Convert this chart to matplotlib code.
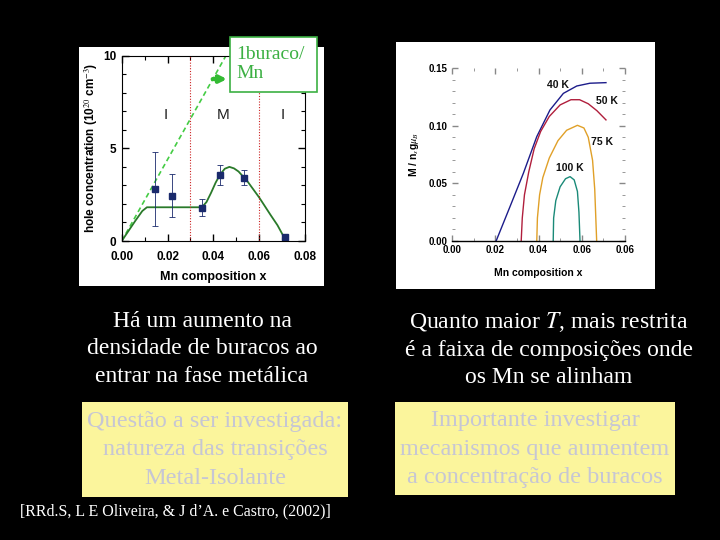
import matplotlib
matplotlib.use("Agg")
import matplotlib.pyplot as plt
from matplotlib.patches import Rectangle
from matplotlib.ticker import MultipleLocator

plt.rcParams["mathtext.fontset"] = "stix"

# painel esquerdo: concentracao de buracos
x_pts = [0.0146, 0.0218, 0.0349, 0.0428, 0.0534, 0.0713]
y_pts = [2.8, 2.45, 1.8, 3.56, 3.42, 0.2]
y_err = [2.0, 1.15, 0.45, 0.55, 0.42, 0.0]

x_fit = [0.0, 0.003, 0.006, 0.009, 0.011, 0.02, 0.035, 0.037, 0.039, 0.041, 0.043,
         0.045, 0.047, 0.049, 0.051, 0.055, 0.060, 0.065, 0.068, 0.0713]
y_fit = [0.0, 0.55, 1.1, 1.62, 1.82, 1.82, 1.82, 2.1, 2.6, 3.15, 3.6,
         3.9, 4.0, 3.92, 3.75, 3.2, 2.35, 1.4, 0.85, 0.1]

x_dash = [0.0, 0.0455]
y_dash = [0.0, 10.0]

regions = ["I", "M", "I"]
region_x = [0.0192, 0.0444, 0.0701]
boundaries = [0.03, 0.06]

# painel direito: magnetizacao
x40 = [0.0204, 0.0268, 0.033, 0.0392, 0.0453, 0.0515, 0.0577, 0.0638, 0.0712]
m40 = [0.0, 0.0297, 0.0587, 0.0905, 0.1136, 0.128, 0.1344, 0.1368, 0.1373]
x50 = [0.032, 0.0325, 0.0335, 0.0355, 0.038, 0.041, 0.045, 0.050, 0.055, 0.059,
       0.063, 0.067, 0.0712]
m50 = [0.0, 0.02, 0.04, 0.06, 0.08, 0.095, 0.108, 0.118, 0.1225, 0.1225,
       0.119, 0.113, 0.105]
x75 = [0.0392, 0.0395, 0.0405, 0.042, 0.045, 0.049, 0.053, 0.058, 0.061, 0.063,
       0.065, 0.066, 0.0665, 0.0669]
m75 = [0.0, 0.02, 0.04, 0.055, 0.072, 0.087, 0.096, 0.1003, 0.098, 0.09,
       0.07, 0.045, 0.02, 0.0]
x100 = [0.0468, 0.047, 0.048, 0.050, 0.0525, 0.0546, 0.0565, 0.058, 0.0587, 0.059, 0.0592]
m100 = [0.0, 0.02, 0.035, 0.047, 0.054, 0.0558, 0.053, 0.043, 0.025, 0.01, 0.0]

temps = ["40 K", "50 K", "75 K", "100 K"]
temp_x = [0.049, 0.0717, 0.0692, 0.0546]
temp_y = [0.1353, 0.1217, 0.0861, 0.0633]
temp_colors = ["#1c1c8a", "#b01e3c", "#e0a028", "#1a8a78"]

# textos do slide
left_text = "Há um aumento na\ndensidade de buracos ao\nentrar na fase metálica"
right_text = "Quanto maior $T$, mais restrita\né a faixa de composições onde\nos Mn se alinham"
left_box = "Questão a ser investigada:\nnatureza das transições\nMetal-Isolante"
right_box = "Importante investigar\nmecanismos que aumentem\na concentração de buracos"
citation = "[RRd.S, L E Oliveira, & J d\u2019A. e Castro, (2002)]"

W, H = 720, 540
fig = plt.figure(figsize=(7.2, 5.4), dpi=100, facecolor="black")

def px(x0, y0, x1, y1):
    return [x0 / W, 1 - y1 / H, (x1 - x0) / W, (y1 - y0) / H]

serif = "Liberation Serif"
sans = "Liberation Sans"

# fundos brancos das figuras
for box in [px(79, 47, 324, 286), px(396, 42, 655, 289)]:
    bg = fig.add_axes(box)
    bg.set_facecolor("white")
    bg.set_xticks([]); bg.set_yticks([])
    for s in bg.spines.values():
        s.set_visible(False)

# ---- grafico esquerdo
ax = fig.add_axes(px(121.7, 55.7, 305, 241))
ax.plot(x_dash, y_dash, color="#44cc44", lw=1.2, ls=(0, (3, 2)))
ax.plot(x_fit, y_fit, color="#2a7a2a", lw=1.3)
for b in boundaries:
    ax.axvline(b, color="#cc2222", lw=0.8, ls=(0, (1, 1.5)))
ax.errorbar(x_pts, y_pts, yerr=y_err, fmt="s", color="#1a2a6c", ms=5,
            elinewidth=0.6, capsize=2, capthick=0.6)
for lab, xr in zip(regions, region_x):
    ax.text(xr, 6.8, lab, ha="center", va="center", fontsize=11,
            family=sans, color="#222222")
ax.set_xlim(0, 0.08)
ax.set_ylim(0, 10)
ax.set_xticks([0.0, 0.02, 0.04, 0.06, 0.08])
ax.set_xticklabels(["0.00", "0.02", "0.04", "0.06", "0.08"])
ax.set_yticks([0, 5, 10])
ax.xaxis.set_minor_locator(MultipleLocator(0.01))
ax.yaxis.set_minor_locator(MultipleLocator(1))
ax.tick_params(which="both", direction="in", top=True, right=True, labelsize=8.5, pad=4)
ax.tick_params(axis="x", which="both", pad=7)
ax.tick_params(which="major", length=5, width=1)
ax.tick_params(which="minor", length=3, width=0.8)
for t in ax.get_xticklabels() + ax.get_yticklabels():
    t.set_fontweight("bold"); t.set_family(sans)
ax.set_xlabel("Mn composition x", fontsize=9, fontweight="bold", family=sans, labelpad=6)
ax.set_ylabel("hole concentration (10$^{20}$ cm$^{-3}$)", fontsize=8.5,
              fontweight="bold", family=sans, labelpad=2)
ax.annotate("", xy=(0.0472, 8.74), xytext=(0.0385, 8.74),
            arrowprops=dict(arrowstyle="-|>", color="#33bb33", lw=3, mutation_scale=10))

# caixa "1buraco/Mn"
fig.patches.append(Rectangle((230 / W, 1 - 92 / H), 87 / W, 55 / H,
                             transform=fig.transFigure, facecolor="white",
                             edgecolor="#3cb043", lw=1.2, zorder=5))
fig.text(236 / W, 1 - 64 / H, "1buraco/\nMn", color="#3cb043", fontsize=14,
         family=serif, va="center", ha="left", linespacing=1.2, zorder=6)

# ---- grafico direito
ax2 = fig.add_axes(px(452, 68, 625, 241))
for xs, ms, c in zip([x40, x50, x75, x100], [m40, m50, m75, m100], temp_colors):
    ax2.plot(xs, ms, color=c, lw=1.0)
for lab, tx, ty in zip(temps, temp_x, temp_y):
    ax2.text(tx, ty, lab, ha="center", va="center", fontsize=7.5,
             fontweight="bold", family=sans, color="#111111")
ax2.set_xlim(0, 0.08)
ax2.set_ylim(0, 0.15)
ax2.set_xticks([0.0, 0.02, 0.04, 0.06, 0.08])
ax2.set_xticklabels(["0.00", "0.02", "0.04", "0.06", "0.06"])
ax2.set_yticks([0.0, 0.05, 0.10, 0.15])
ax2.set_yticklabels(["0.00", "0.05", "0.10", "0.15"])
ax2.xaxis.set_minor_locator(MultipleLocator(0.01))
ax2.yaxis.set_minor_locator(MultipleLocator(0.01))
for s in ["top", "left", "right"]:
    ax2.spines[s].set_visible(False)
ax2.spines["bottom"].set_linewidth(1.0)
ax2.tick_params(which="both", direction="in", top=True, right=True, labelsize=7,
                color="#888888", pad=3)
ax2.tick_params(which="major", length=4, width=1)
ax2.tick_params(which="minor", length=2.5, width=0.6)
for t in ax2.get_xticklabels() + ax2.get_yticklabels():
    t.set_fontweight("bold"); t.set_family(sans)
ax2.set_xlabel("Mn composition x", fontsize=7.5, fontweight="bold", family=sans, labelpad=9)
ax2.set_ylabel("M / n$_s$g$\\mu_B$", fontsize=7.5, fontweight="bold", family=sans, labelpad=6)

# ---- textos
fig.text(202 / W, 1 - 349 / H, left_text, color="white", fontsize=17, family=serif,
         ha="center", va="center", linespacing=1.38)
fig.text(549 / W, 1 - 349 / H, right_text, color="white", fontsize=17, family=serif,
         ha="center", va="center", linespacing=1.38)

fig.patches.append(Rectangle((82 / W, 1 - 497 / H), 266 / W, 95 / H,
                             transform=fig.transFigure, facecolor="#fbf59c",
                             edgecolor="none", zorder=1))
fig.patches.append(Rectangle((395 / W, 1 - 495 / H), 280 / W, 93 / H,
                             transform=fig.transFigure, facecolor="#fbf59c",
                             edgecolor="none", zorder=1))
fig.text(215 / W, 1 - 450 / H, left_box, color="#c6c6d4", fontsize=17.5, family=serif,
         ha="center", va="center", linespacing=1.45, zorder=2)
fig.text(535 / W, 1 - 449 / H, right_box, color="#c6c6d4", fontsize=17.5, family=serif,
         ha="center", va="center", linespacing=1.45, zorder=2)
fig.text(20 / W, 1 - 511 / H, citation, color="white", fontsize=11.5, family=serif,
         ha="left", va="center")

fig.savefig("out.png", dpi=100, facecolor="black")
